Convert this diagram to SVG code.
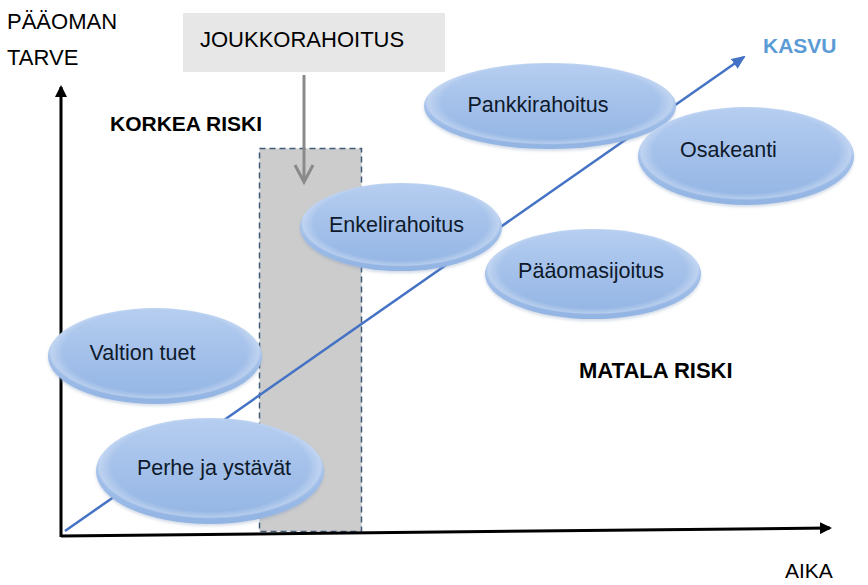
<svg xmlns="http://www.w3.org/2000/svg" width="868" height="585" viewBox="0 0 868 585">
<defs>
<style>
.lbl{font-family:"Liberation Sans",Arial,sans-serif;font-size:22px;fill:#000}
.bold{font-family:"Liberation Sans",Arial,sans-serif;font-size:21px;font-weight:bold;fill:#000}
.node{font-family:"Liberation Sans",Arial,sans-serif;font-size:21.5px;fill:#0e1a2b;text-anchor:middle}
.ell{fill:url(#eg);filter:url(#sh)}
.hl{fill:url(#hg)}
</style>
<linearGradient id="eg" x1="0" y1="0" x2="0" y2="1">
<stop offset="0" stop-color="#b6cef0"/>
<stop offset="0.5" stop-color="#a3c0ea"/>
<stop offset="1" stop-color="#92b4e3"/>
</linearGradient>
<radialGradient id="hg" cx="0.5" cy="0.45" r="0.5">
<stop offset="0.86" stop-color="#ffffff" stop-opacity="0"/>
<stop offset="0.97" stop-color="#ffffff" stop-opacity="0.3"/>
<stop offset="1" stop-color="#ffffff" stop-opacity="0"/>
</radialGradient>
<filter id="sh" x="-10%" y="-10%" width="120%" height="130%">
<feDropShadow dx="0" dy="2" stdDeviation="1.5" flood-color="#8099bb" flood-opacity="0.35"/>
</filter>
<marker id="ab" markerWidth="12" markerHeight="12" refX="10" refY="6" orient="auto" markerUnits="userSpaceOnUse">
<path d="M0,0 L12,6 L0,12 z" fill="#000"/>
</marker>
<marker id="abl" markerWidth="14" markerHeight="12" refX="12" refY="6" orient="auto" markerUnits="userSpaceOnUse">
<path d="M0,0 L14,6 L0,12 z" fill="#4472c4"/>
</marker>
</defs>
<rect width="868" height="585" fill="#fff"/>

<g id="joukko-box">
<rect x="183" y="13" width="262" height="59" fill="#e7e7e7"/>
<text class="lbl" x="200" y="47">JOUKKORAHOITUS</text>
</g>

<g id="joukko-area">
<rect x="259.5" y="148.5" width="102" height="383" fill="#cccccc" stroke="#3d5a78" stroke-width="1.5" stroke-dasharray="6,4"/>
</g>

<g id="connectors">
<line x1="61" y1="537" x2="61" y2="87" stroke="#000" stroke-width="3" marker-end="url(#ab)"/>
<line x1="61" y1="536" x2="830" y2="528" stroke="#000" stroke-width="3" marker-end="url(#ab)"/>
<line x1="65" y1="531" x2="744" y2="57" stroke="#4472c4" stroke-width="2.5" marker-end="url(#abl)"/>
<line x1="304" y1="75" x2="304" y2="181" stroke="#8a8a8a" stroke-width="3"/>
<polyline points="295,165 304,182 313,165" fill="none" stroke="#8a8a8a" stroke-width="3"/>
</g>

<g id="valtion">
<ellipse class="ell" cx="155" cy="356" rx="107" ry="48"/>
<ellipse class="hl" cx="155" cy="356" rx="107" ry="48"/>
<text class="node" x="142.5" y="360">Valtion tuet</text>
</g>
<g id="perhe">
<ellipse class="ell" cx="210" cy="471" rx="114" ry="53"/>
<ellipse class="hl" cx="210" cy="471" rx="114" ry="53"/>
<text class="node" x="214" y="475">Perhe ja ystävät</text>
</g>
<g id="enkeli">
<ellipse class="ell" cx="401" cy="227" rx="101" ry="44"/>
<ellipse class="hl" cx="401" cy="227" rx="101" ry="44"/>
<text class="node" x="396.5" y="232">Enkelirahoitus</text>
</g>
<g id="pankki">
<ellipse class="ell" cx="550" cy="106" rx="126" ry="43"/>
<ellipse class="hl" cx="550" cy="106" rx="126" ry="43"/>
<text class="node" x="538" y="112">Pankkirahoitus</text>
</g>
<g id="osakeanti">
<ellipse class="ell" cx="746" cy="156" rx="108" ry="49"/>
<ellipse class="hl" cx="746" cy="156" rx="108" ry="49"/>
<text class="node" x="728.5" y="157">Osakeanti</text>
</g>
<g id="paaoma">
<ellipse class="ell" cx="593" cy="274" rx="108" ry="45"/>
<ellipse class="hl" cx="593" cy="274" rx="108" ry="45"/>
<text class="node" x="591" y="278">Pääomasijoitus</text>
</g>

<g id="labels">
<text class="lbl" x="7" y="29">PÄÄOMAN</text>
<text class="lbl" x="7" y="65">TARVE</text>
<text class="bold" x="110" y="131">KORKEA RISKI</text>
<text class="bold" x="763" y="53" style="fill:#5b9bd5">KASVU</text>
<text class="bold" x="579" y="378" font-size="22" style="font-size:22px">MATALA RISKI</text>
<text class="lbl" x="785" y="578" style="font-size:21px">AIKA</text>
</g>
</svg>
